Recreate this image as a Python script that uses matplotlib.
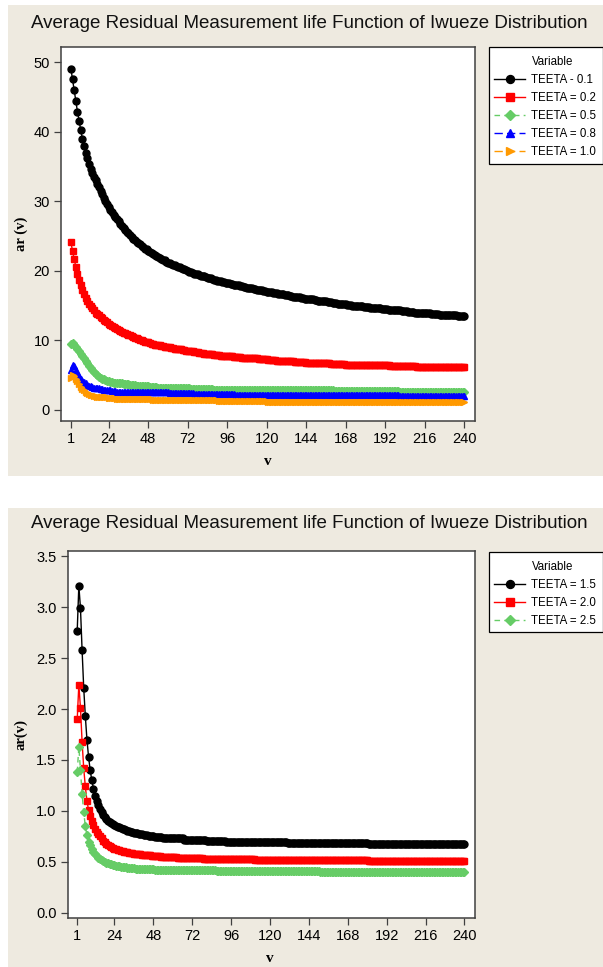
import matplotlib
matplotlib.use('Agg')
import matplotlib.pyplot as plt
import numpy as np
from matplotlib.lines import Line2D
from matplotlib.patches import Rectangle

plt.rcParams['font.family'] = ['Liberation Sans', 'DejaVu Sans']

# data, v = 1..240
v = np.arange(1, 241)
xtick_vals = [1, 24, 48, 72, 96, 120, 144, 168, 192, 216, 240]

teeta_01 = [
    49.1, 47.6, 46.0, 44.4, 42.9, 41.6, 40.2, 39.0, 37.9, 37.0, 36.2, 35.3, 34.7, 34.1, 33.5, 33.0, 32.5, 32.0, 31.5, 31.0,
    30.5, 30.1, 29.6, 29.2, 28.8, 28.4, 28.1, 27.7, 27.4, 27.1, 26.8, 26.5, 26.2, 25.9, 25.6, 25.4, 25.1, 24.9, 24.6, 24.4,
    24.2, 24.0, 23.8, 23.6, 23.4, 23.2, 23.1, 22.9, 22.7, 22.6, 22.4, 22.3, 22.2, 22.0, 21.9, 21.7, 21.6, 21.5, 21.3, 21.2,
    21.1, 21.0, 20.9, 20.8, 20.7, 20.6, 20.5, 20.4, 20.3, 20.2, 20.1, 20.0, 19.9, 19.8, 19.7, 19.6, 19.6, 19.5, 19.4, 19.3,
    19.2, 19.2, 19.1, 19.0, 18.9, 18.9, 18.8, 18.7, 18.7, 18.6, 18.5, 18.5, 18.4, 18.4, 18.3, 18.2, 18.2, 18.1, 18.1, 18.0,
    18.0, 17.9, 17.9, 17.8, 17.8, 17.7, 17.7, 17.6, 17.6, 17.5, 17.5, 17.4, 17.4, 17.3, 17.3, 17.2, 17.2, 17.1, 17.1, 17.0,
    17.0, 16.9, 16.9, 16.8, 16.8, 16.8, 16.7, 16.7, 16.6, 16.6, 16.5, 16.5, 16.5, 16.4, 16.4, 16.3, 16.3, 16.2, 16.2, 16.2,
    16.1, 16.1, 16.0, 16.0, 16.0, 15.9, 15.9, 15.9, 15.8, 15.8, 15.7, 15.7, 15.7, 15.6, 15.6, 15.6, 15.5, 15.5, 15.5, 15.4,
    15.4, 15.4, 15.3, 15.3, 15.3, 15.2, 15.2, 15.2, 15.1, 15.1, 15.1, 15.0, 15.0, 15.0, 15.0, 14.9, 14.9, 14.9, 14.8, 14.8,
    14.8, 14.8, 14.7, 14.7, 14.7, 14.6, 14.6, 14.6, 14.6, 14.5, 14.5, 14.5, 14.5, 14.4, 14.4, 14.4, 14.4, 14.3, 14.3, 14.3,
    14.3, 14.2, 14.2, 14.2, 14.2, 14.1, 14.1, 14.1, 14.1, 14.0, 14.0, 14.0, 14.0, 14.0, 13.9, 13.9, 13.9, 13.9, 13.9, 13.8,
    13.8, 13.8, 13.8, 13.8, 13.7, 13.7, 13.7, 13.7, 13.7, 13.6, 13.6, 13.6, 13.6, 13.6, 13.6, 13.5, 13.5, 13.5, 13.5, 13.5,
]
teeta_02 = [
    24.1, 22.9, 21.7, 20.6, 19.6, 18.7, 17.9, 17.2, 16.6, 16.1, 15.7, 15.3, 15.0, 14.6, 14.3, 14.0, 13.8, 13.6, 13.4, 13.2,
    13.0, 12.8, 12.6, 12.4, 12.2, 12.1, 11.9, 11.8, 11.6, 11.5, 11.4, 11.2, 11.1, 11.0, 10.9, 10.8, 10.7, 10.6, 10.5, 10.4,
    10.3, 10.2, 10.1, 10.0, 9.9, 9.8, 9.8, 9.7, 9.6, 9.5, 9.5, 9.4, 9.4, 9.3, 9.3, 9.2, 9.2, 9.1, 9.1, 9.0,
    9.0, 8.9, 8.9, 8.8, 8.8, 8.7, 8.7, 8.7, 8.6, 8.6, 8.5, 8.5, 8.4, 8.4, 8.4, 8.3, 8.3, 8.3, 8.2, 8.2,
    8.2, 8.1, 8.1, 8.1, 8.0, 8.0, 8.0, 7.9, 7.9, 7.9, 7.9, 7.8, 7.8, 7.8, 7.8, 7.7, 7.7, 7.7, 7.7, 7.6,
    7.6, 7.6, 7.6, 7.6, 7.5, 7.5, 7.5, 7.5, 7.5, 7.4, 7.4, 7.4, 7.4, 7.4, 7.3, 7.3, 7.3, 7.3, 7.3, 7.3,
    7.2, 7.2, 7.2, 7.2, 7.2, 7.1, 7.1, 7.1, 7.1, 7.1, 7.0, 7.0, 7.0, 7.0, 7.0, 7.0, 6.9, 6.9, 6.9, 6.9,
    6.9, 6.9, 6.9, 6.8, 6.8, 6.8, 6.8, 6.8, 6.8, 6.8, 6.7, 6.7, 6.7, 6.7, 6.7, 6.7, 6.7, 6.7, 6.6, 6.6,
    6.6, 6.6, 6.6, 6.6, 6.6, 6.6, 6.6, 6.5, 6.5, 6.5, 6.5, 6.5, 6.5, 6.5, 6.5, 6.5, 6.5, 6.5, 6.5, 6.5,
    6.5, 6.5, 6.4, 6.4, 6.4, 6.4, 6.4, 6.4, 6.4, 6.4, 6.4, 6.4, 6.4, 6.4, 6.3, 6.3, 6.3, 6.3, 6.3, 6.3,
    6.3, 6.3, 6.3, 6.3, 6.3, 6.3, 6.3, 6.3, 6.3, 6.3, 6.2, 6.2, 6.2, 6.2, 6.2, 6.2, 6.2, 6.2, 6.2, 6.2,
    6.2, 6.2, 6.2, 6.2, 6.2, 6.2, 6.2, 6.2, 6.1, 6.1, 6.1, 6.1, 6.1, 6.1, 6.1, 6.1, 6.1, 6.1, 6.1, 6.1,
]
teeta_05 = [
    9.5, 9.6, 9.4, 9.1, 8.8, 8.5, 8.1, 7.8, 7.4, 7.0, 6.7, 6.3, 6.0, 5.7, 5.5, 5.2, 5.0, 4.8, 4.6, 4.5,
    4.4, 4.3, 4.2, 4.1, 4.0, 4.0, 3.9, 3.9, 3.9, 3.8, 3.8, 3.8, 3.7, 3.7, 3.7, 3.7, 3.6, 3.6, 3.6, 3.6,
    3.5, 3.5, 3.5, 3.5, 3.4, 3.4, 3.4, 3.4, 3.3, 3.3, 3.3, 3.3, 3.3, 3.2, 3.2, 3.2, 3.2, 3.2, 3.2, 3.1,
    3.1, 3.1, 3.1, 3.1, 3.1, 3.1, 3.1, 3.1, 3.1, 3.1, 3.1, 3.1, 3.1, 3.0, 3.0, 3.0, 3.0, 3.0, 3.0, 3.0,
    3.0, 3.0, 3.0, 3.0, 3.0, 3.0, 3.0, 2.9, 2.9, 2.9, 2.9, 2.9, 2.9, 2.9, 2.9, 2.9, 2.9, 2.9, 2.9, 2.9,
    2.9, 2.9, 2.9, 2.9, 2.9, 2.9, 2.9, 2.9, 2.9, 2.9, 2.9, 2.9, 2.9, 2.9, 2.9, 2.9, 2.9, 2.9, 2.9, 2.9,
    2.8, 2.8, 2.8, 2.8, 2.8, 2.8, 2.8, 2.8, 2.8, 2.8, 2.8, 2.8, 2.8, 2.8, 2.8, 2.8, 2.8, 2.8, 2.8, 2.8,
    2.8, 2.8, 2.8, 2.8, 2.8, 2.8, 2.8, 2.8, 2.8, 2.8, 2.8, 2.8, 2.8, 2.8, 2.8, 2.8, 2.8, 2.8, 2.8, 2.8,
    2.7, 2.7, 2.7, 2.7, 2.7, 2.7, 2.7, 2.7, 2.7, 2.7, 2.7, 2.7, 2.7, 2.7, 2.7, 2.7, 2.7, 2.7, 2.7, 2.7,
    2.7, 2.7, 2.7, 2.7, 2.7, 2.7, 2.7, 2.7, 2.7, 2.7, 2.7, 2.7, 2.7, 2.7, 2.7, 2.7, 2.7, 2.7, 2.7, 2.7,
    2.6, 2.6, 2.6, 2.6, 2.6, 2.6, 2.6, 2.6, 2.6, 2.6, 2.6, 2.6, 2.6, 2.6, 2.6, 2.6, 2.6, 2.6, 2.6, 2.6,
    2.6, 2.6, 2.6, 2.6, 2.6, 2.6, 2.6, 2.6, 2.6, 2.6, 2.6, 2.6, 2.6, 2.6, 2.6, 2.6, 2.6, 2.6, 2.6, 2.6,
]
teeta_08 = [
    5.7, 6.4, 6.3, 5.8, 5.3, 4.9, 4.5, 4.2, 4.0, 3.8, 3.6, 3.5, 3.4, 3.3, 3.2, 3.2, 3.1, 3.1, 3.0, 3.0,
    2.9, 2.9, 2.8, 2.8, 2.8, 2.7, 2.7, 2.7, 2.6, 2.6, 2.6, 2.6, 2.6, 2.6, 2.6, 2.6, 2.5, 2.5, 2.5, 2.5,
    2.5, 2.5, 2.5, 2.5, 2.5, 2.5, 2.5, 2.5, 2.5, 2.5, 2.5, 2.5, 2.5, 2.5, 2.5, 2.5, 2.5, 2.5, 2.5, 2.5,
    2.4, 2.4, 2.4, 2.4, 2.4, 2.4, 2.4, 2.4, 2.4, 2.4, 2.4, 2.4, 2.4, 2.4, 2.4, 2.3, 2.3, 2.3, 2.3, 2.3,
    2.3, 2.3, 2.3, 2.3, 2.3, 2.3, 2.3, 2.3, 2.3, 2.3, 2.3, 2.3, 2.3, 2.3, 2.3, 2.3, 2.3, 2.3, 2.3, 2.3,
    2.2, 2.2, 2.2, 2.2, 2.2, 2.2, 2.2, 2.2, 2.2, 2.2, 2.2, 2.2, 2.2, 2.2, 2.2, 2.2, 2.2, 2.2, 2.2, 2.2,
    2.2, 2.2, 2.2, 2.2, 2.2, 2.2, 2.2, 2.2, 2.2, 2.2, 2.2, 2.2, 2.2, 2.2, 2.2, 2.2, 2.2, 2.2, 2.2, 2.2,
    2.1, 2.1, 2.1, 2.1, 2.1, 2.1, 2.1, 2.1, 2.1, 2.1, 2.1, 2.1, 2.1, 2.1, 2.1, 2.1, 2.1, 2.1, 2.1, 2.1,
    2.1, 2.1, 2.1, 2.1, 2.1, 2.1, 2.1, 2.1, 2.1, 2.1, 2.1, 2.1, 2.1, 2.1, 2.1, 2.1, 2.1, 2.1, 2.1, 2.1,
    2.1, 2.1, 2.1, 2.1, 2.1, 2.1, 2.1, 2.1, 2.1, 2.1, 2.1, 2.1, 2.1, 2.1, 2.1, 2.1, 2.1, 2.1, 2.1, 2.1,
    2.0, 2.0, 2.0, 2.0, 2.0, 2.0, 2.0, 2.0, 2.0, 2.0, 2.0, 2.0, 2.0, 2.0, 2.0, 2.0, 2.0, 2.0, 2.0, 2.0,
    2.0, 2.0, 2.0, 2.0, 2.0, 2.0, 2.0, 2.0, 2.0, 2.0, 2.0, 2.0, 2.0, 2.0, 2.0, 2.0, 2.0, 2.0, 2.0, 2.0,
]
teeta_10 = [
    4.6, 5.0, 4.9, 4.5, 4.1, 3.7, 3.3, 3.0, 2.8, 2.6, 2.4, 2.3, 2.2, 2.1, 2.0, 2.0, 1.9, 1.9, 1.8, 1.8,
    1.8, 1.8, 1.8, 1.7, 1.7, 1.7, 1.7, 1.7, 1.6, 1.6, 1.6, 1.6, 1.6, 1.6, 1.5, 1.5, 1.5, 1.5, 1.5, 1.5,
    1.5, 1.5, 1.5, 1.5, 1.5, 1.5, 1.5, 1.5, 1.5, 1.5, 1.4, 1.4, 1.4, 1.4, 1.4, 1.4, 1.4, 1.4, 1.4, 1.4,
    1.4, 1.4, 1.4, 1.4, 1.4, 1.4, 1.4, 1.4, 1.4, 1.4, 1.4, 1.4, 1.4, 1.4, 1.4, 1.4, 1.4, 1.4, 1.4, 1.4,
    1.4, 1.4, 1.4, 1.4, 1.4, 1.4, 1.4, 1.4, 1.4, 1.4, 1.3, 1.3, 1.3, 1.3, 1.3, 1.3, 1.3, 1.3, 1.3, 1.3,
    1.3, 1.3, 1.3, 1.3, 1.3, 1.3, 1.3, 1.3, 1.3, 1.3, 1.3, 1.3, 1.3, 1.3, 1.3, 1.3, 1.3, 1.3, 1.3, 1.3,
    1.2, 1.2, 1.2, 1.2, 1.2, 1.2, 1.2, 1.2, 1.2, 1.2, 1.2, 1.2, 1.2, 1.2, 1.2, 1.2, 1.2, 1.2, 1.2, 1.2,
    1.2, 1.2, 1.2, 1.2, 1.2, 1.2, 1.2, 1.2, 1.2, 1.2, 1.2, 1.2, 1.2, 1.2, 1.2, 1.2, 1.2, 1.2, 1.2, 1.2,
    1.2, 1.2, 1.2, 1.2, 1.2, 1.2, 1.2, 1.2, 1.2, 1.2, 1.2, 1.2, 1.2, 1.2, 1.2, 1.2, 1.2, 1.2, 1.2, 1.2,
    1.1, 1.1, 1.1, 1.1, 1.1, 1.1, 1.1, 1.1, 1.1, 1.1, 1.1, 1.1, 1.1, 1.1, 1.1, 1.1, 1.1, 1.1, 1.1, 1.1,
    1.1, 1.1, 1.1, 1.1, 1.1, 1.1, 1.1, 1.1, 1.1, 1.1, 1.1, 1.1, 1.1, 1.1, 1.1, 1.1, 1.1, 1.1, 1.1, 1.1,
    1.1, 1.1, 1.1, 1.1, 1.1, 1.1, 1.1, 1.1, 1.1, 1.1, 1.1, 1.1, 1.1, 1.1, 1.1, 1.1, 1.1, 1.1, 1.1, 1.1,
]

teeta_15 = [
    2.77, 3.21, 2.99, 2.58, 2.21, 1.93, 1.70, 1.53, 1.40, 1.30, 1.22, 1.15, 1.10, 1.06, 1.02, 0.99, 0.96, 0.94, 0.92, 0.90,
    0.89, 0.88, 0.87, 0.86, 0.85, 0.84, 0.84, 0.83, 0.82, 0.82, 0.81, 0.80, 0.80, 0.79, 0.79, 0.78, 0.78, 0.78, 0.77, 0.77,
    0.77, 0.76, 0.76, 0.76, 0.75, 0.75, 0.75, 0.75, 0.74, 0.74, 0.74, 0.74, 0.74, 0.73, 0.73, 0.73, 0.73, 0.73, 0.73, 0.73,
    0.73, 0.73, 0.73, 0.73, 0.73, 0.73, 0.72, 0.72, 0.72, 0.72, 0.72, 0.72, 0.72, 0.72, 0.72, 0.72, 0.72, 0.72, 0.72, 0.72,
    0.71, 0.71, 0.71, 0.71, 0.71, 0.71, 0.71, 0.71, 0.71, 0.71, 0.71, 0.71, 0.70, 0.70, 0.70, 0.70, 0.70, 0.70, 0.70, 0.70,
    0.70, 0.70, 0.70, 0.70, 0.70, 0.70, 0.70, 0.70, 0.70, 0.70, 0.70, 0.70, 0.70, 0.70, 0.70, 0.70, 0.70, 0.70, 0.70, 0.70,
    0.70, 0.70, 0.70, 0.70, 0.70, 0.70, 0.70, 0.70, 0.70, 0.70, 0.69, 0.69, 0.69, 0.69, 0.69, 0.69, 0.69, 0.69, 0.69, 0.69,
    0.69, 0.69, 0.69, 0.69, 0.69, 0.69, 0.69, 0.69, 0.69, 0.69, 0.69, 0.69, 0.69, 0.69, 0.69, 0.69, 0.69, 0.69, 0.69, 0.69,
    0.69, 0.69, 0.69, 0.69, 0.69, 0.69, 0.69, 0.69, 0.69, 0.69, 0.69, 0.69, 0.69, 0.69, 0.69, 0.69, 0.69, 0.69, 0.69, 0.69,
    0.68, 0.68, 0.68, 0.68, 0.68, 0.68, 0.68, 0.68, 0.68, 0.68, 0.68, 0.68, 0.68, 0.68, 0.68, 0.68, 0.68, 0.68, 0.68, 0.68,
    0.68, 0.68, 0.68, 0.68, 0.68, 0.68, 0.68, 0.68, 0.68, 0.68, 0.68, 0.68, 0.68, 0.68, 0.68, 0.68, 0.68, 0.68, 0.68, 0.68,
    0.68, 0.68, 0.68, 0.68, 0.68, 0.68, 0.68, 0.68, 0.68, 0.68, 0.68, 0.68, 0.68, 0.68, 0.68, 0.68, 0.68, 0.68, 0.68, 0.68,
]
teeta_20 = [
    1.90, 2.24, 2.01, 1.68, 1.42, 1.24, 1.10, 1.01, 0.95, 0.90, 0.86, 0.82, 0.79, 0.77, 0.75, 0.73, 0.71, 0.70, 0.68, 0.67,
    0.66, 0.65, 0.64, 0.63, 0.63, 0.62, 0.62, 0.61, 0.61, 0.60, 0.60, 0.60, 0.59, 0.59, 0.59, 0.58, 0.58, 0.58, 0.58, 0.58,
    0.57, 0.57, 0.57, 0.57, 0.57, 0.57, 0.56, 0.56, 0.56, 0.56, 0.56, 0.56, 0.55, 0.55, 0.55, 0.55, 0.55, 0.55, 0.55, 0.55,
    0.55, 0.55, 0.54, 0.54, 0.54, 0.54, 0.54, 0.54, 0.54, 0.54, 0.54, 0.54, 0.54, 0.54, 0.54, 0.54, 0.54, 0.54, 0.53, 0.53,
    0.53, 0.53, 0.53, 0.53, 0.53, 0.53, 0.53, 0.53, 0.53, 0.53, 0.53, 0.53, 0.53, 0.53, 0.53, 0.53, 0.53, 0.53, 0.53, 0.53,
    0.53, 0.53, 0.53, 0.53, 0.53, 0.53, 0.53, 0.53, 0.53, 0.53, 0.52, 0.52, 0.52, 0.52, 0.52, 0.52, 0.52, 0.52, 0.52, 0.52,
    0.52, 0.52, 0.52, 0.52, 0.52, 0.52, 0.52, 0.52, 0.52, 0.52, 0.52, 0.52, 0.52, 0.52, 0.52, 0.52, 0.52, 0.52, 0.52, 0.52,
    0.52, 0.52, 0.52, 0.52, 0.52, 0.52, 0.52, 0.52, 0.52, 0.52, 0.52, 0.52, 0.52, 0.52, 0.52, 0.52, 0.52, 0.52, 0.52, 0.52,
    0.52, 0.52, 0.52, 0.52, 0.52, 0.52, 0.52, 0.52, 0.52, 0.52, 0.52, 0.52, 0.52, 0.52, 0.52, 0.52, 0.52, 0.52, 0.52, 0.52,
    0.51, 0.51, 0.51, 0.51, 0.51, 0.51, 0.51, 0.51, 0.51, 0.51, 0.51, 0.51, 0.51, 0.51, 0.51, 0.51, 0.51, 0.51, 0.51, 0.51,
    0.51, 0.51, 0.51, 0.51, 0.51, 0.51, 0.51, 0.51, 0.51, 0.51, 0.51, 0.51, 0.51, 0.51, 0.51, 0.51, 0.51, 0.51, 0.51, 0.51,
    0.51, 0.51, 0.51, 0.51, 0.51, 0.51, 0.51, 0.51, 0.51, 0.51, 0.51, 0.51, 0.51, 0.51, 0.51, 0.51, 0.51, 0.51, 0.51, 0.51,
]
teeta_25 = [
    1.38, 1.63, 1.40, 1.17, 0.99, 0.85, 0.76, 0.70, 0.67, 0.63, 0.60, 0.58, 0.56, 0.54, 0.53, 0.52, 0.51, 0.50, 0.49, 0.49,
    0.48, 0.48, 0.47, 0.47, 0.46, 0.46, 0.46, 0.45, 0.45, 0.45, 0.45, 0.44, 0.44, 0.44, 0.44, 0.44, 0.43, 0.43, 0.43, 0.43,
    0.43, 0.43, 0.43, 0.43, 0.43, 0.43, 0.43, 0.43, 0.42, 0.42, 0.42, 0.42, 0.42, 0.42, 0.42, 0.42, 0.42, 0.42, 0.42, 0.42,
    0.42, 0.42, 0.42, 0.42, 0.42, 0.42, 0.42, 0.42, 0.42, 0.42, 0.42, 0.42, 0.42, 0.42, 0.42, 0.42, 0.42, 0.42, 0.42, 0.42,
    0.42, 0.42, 0.42, 0.42, 0.42, 0.42, 0.41, 0.41, 0.41, 0.41, 0.41, 0.41, 0.41, 0.41, 0.41, 0.41, 0.41, 0.41, 0.41, 0.41,
    0.41, 0.41, 0.41, 0.41, 0.41, 0.41, 0.41, 0.41, 0.41, 0.41, 0.41, 0.41, 0.41, 0.41, 0.41, 0.41, 0.41, 0.41, 0.41, 0.41,
    0.41, 0.41, 0.41, 0.41, 0.41, 0.41, 0.41, 0.41, 0.41, 0.41, 0.41, 0.41, 0.41, 0.41, 0.41, 0.41, 0.41, 0.41, 0.41, 0.41,
    0.41, 0.41, 0.41, 0.41, 0.41, 0.41, 0.41, 0.41, 0.41, 0.41, 0.40, 0.40, 0.40, 0.40, 0.40, 0.40, 0.40, 0.40, 0.40, 0.40,
    0.40, 0.40, 0.40, 0.40, 0.40, 0.40, 0.40, 0.40, 0.40, 0.40, 0.40, 0.40, 0.40, 0.40, 0.40, 0.40, 0.40, 0.40, 0.40, 0.40,
    0.40, 0.40, 0.40, 0.40, 0.40, 0.40, 0.40, 0.40, 0.40, 0.40, 0.40, 0.40, 0.40, 0.40, 0.40, 0.40, 0.40, 0.40, 0.40, 0.40,
    0.40, 0.40, 0.40, 0.40, 0.40, 0.40, 0.40, 0.40, 0.40, 0.40, 0.40, 0.40, 0.40, 0.40, 0.40, 0.40, 0.40, 0.40, 0.40, 0.40,
    0.40, 0.40, 0.40, 0.40, 0.40, 0.40, 0.40, 0.40, 0.40, 0.40, 0.40, 0.40, 0.40, 0.40, 0.40, 0.40, 0.40, 0.40, 0.40, 0.40,
]

top_series = [teeta_01, teeta_02, teeta_05, teeta_08, teeta_10]
top_labels = ['TEETA - 0.1', 'TEETA = 0.2', 'TEETA = 0.5', 'TEETA = 0.8', 'TEETA = 1.0']
bot_series = [teeta_15, teeta_20, teeta_25]
bot_labels = ['TEETA = 1.5', 'TEETA = 2.0', 'TEETA = 2.5']

colors = ['black', '#FF0000', '#66CC66', '#0000FF', '#FF9900']
markers = ['o', 's', 'D', '^', '>']
dashes = ['-', '-', (0, (4, 3)), (0, (6, 3)), (0, (6, 3))]
msizes = [5.0, 4.4, 4.4, 4.8, 4.8]

W, H = 603.0, 967.0
beige = '#EEEAE0'
title = 'Average Residual Measurement life Function of Iwueze Distribution'

fig = plt.figure(figsize=(W / 100, H / 100), dpi=100)
fig.patch.set_facecolor('white')


def px_rect(l, t, r, b, **kw):
    fig.patches.append(Rectangle((l / W, 1 - b / H), (r - l) / W, (b - t) / H,
                                 transform=fig.transFigure, **kw))


# beige panel backgrounds (pixel boxes: left, top, right, bottom)
px_rect(8, 5, 603, 476, facecolor=beige, edgecolor='none', zorder=-5)
px_rect(8, 508, 603, 967, facecolor=beige, edgecolor='none', zorder=-5)


def px_axes(l, t, r, b):
    return fig.add_axes([l / W, 1 - b / H, (r - l) / W, (b - t) / H])


def style(ax):
    ax.set_facecolor('white')
    for s in ax.spines.values():
        s.set_color('#404040')
        s.set_linewidth(1.1)
    ax.tick_params(direction='out', length=5, width=0.9, color='#404040',
                   labelsize=10.5, pad=3, top=False, right=False)
    ax.set_xticks(xtick_vals)
    ax.set_xlim(-5, 246.5)


def legend_at(lines, labels, box):
    l, t, r, b = box
    px_rect(l, t, r, b, facecolor='white', edgecolor='black', linewidth=0.9, zorder=4)
    blank = Line2D([], [], linestyle='none')
    leg = fig.legend([blank] + lines, ['Variable'] + labels, loc='upper left',
                     bbox_to_anchor=((l + 5) / W, 1 - (t + 9) / H),
                     bbox_transform=fig.transFigure, fontsize=8.3,
                     frameon=False, handlelength=2.7, handletextpad=0.55,
                     borderpad=0, labelspacing=0.52, borderaxespad=0,
                     markerscale=1.15)
    leg.set_zorder(5)
    return leg


# top panel
ax1 = px_axes(61, 47, 475, 421)
lines1 = []
for y, lab, c, m, d, ms in zip(top_series, top_labels, colors, markers, dashes, msizes):
    ln, = ax1.plot(v, y, color=c, marker=m, markersize=ms, markeredgecolor=c,
                   linestyle=d, linewidth=1.0, label=lab)
    lines1.append(ln)
style(ax1)
ax1.set_ylim(-1.6, 52.2)
ax1.set_yticks([0, 10, 20, 30, 40, 50])
legend_at(lines1, top_labels, (489, 47, 602.5, 164))
fig.text(309 / W, 1 - 23 / H, title, ha='center', va='center', fontsize=13.5, color='#111111')
fig.text(21 / W, 1 - 234 / H, 'ar (v)', rotation=90, ha='center', va='center',
         fontsize=10.5, fontweight='bold', family='Liberation Serif')
fig.text(268 / W, 1 - 462 / H, 'v', ha='center', va='center',
         fontsize=11, fontweight='bold', family='Liberation Serif')

# bottom panel
ax2 = px_axes(67.5, 551, 475, 918)
lines2 = []
for y, lab, c, m, d, ms in zip(bot_series, bot_labels, colors, markers, dashes, msizes):
    ln, = ax2.plot(v, y, color=c, marker=m, markersize=ms, markeredgecolor=c,
                   linestyle=d, linewidth=1.0, label=lab)
    lines2.append(ln)
style(ax2)
ax2.set_ylim(-0.05, 3.55)
ax2.set_yticks([0.0, 0.5, 1.0, 1.5, 2.0, 2.5, 3.0, 3.5])
ax2.yaxis.set_major_formatter(matplotlib.ticker.FormatStrFormatter('%.1f'))
legend_at(lines2, bot_labels, (489, 552, 602.5, 632))
fig.text(309 / W, 1 - 523.5 / H, title, ha='center', va='center', fontsize=13.5, color='#111111')
fig.text(21 / W, 1 - 735 / H, 'ar(v)', rotation=90, ha='center', va='center',
         fontsize=10.5, fontweight='bold', family='Liberation Serif')
fig.text(270 / W, 1 - 958 / H, 'v', ha='center', va='center',
         fontsize=11, fontweight='bold', family='Liberation Serif')

fig.savefig('out.png', dpi=100, facecolor='white')
